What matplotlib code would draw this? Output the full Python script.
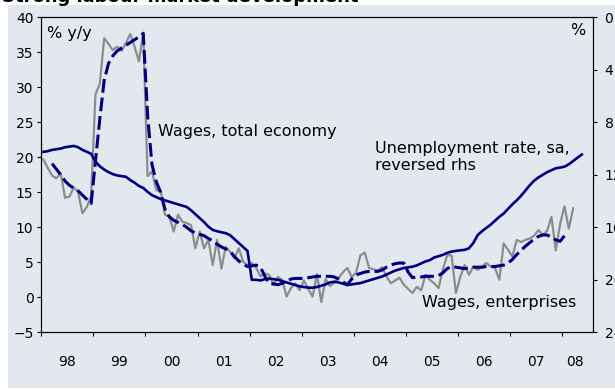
import numpy as np
import matplotlib.pyplot as plt
from matplotlib.patches import Rectangle

# monthly series, month 0 = Jan 1998
wages_enterprises = [
    19.7, 18.5, 17.4, 17.0, 17.7, 14.2, 14.4, 15.7, 15.0, 12.0, 12.9, 14.5,   # 1998
    29.0, 30.5, 37.0, 36.2, 35.3, 35.8, 35.2, 36.3, 37.6, 35.8, 33.7, 37.8,   # 1999
    17.3, 18.0, 15.3, 15.2, 11.8, 11.5, 9.4, 11.8, 10.8, 10.6, 10.3, 7.0,     # 2000
    9.4, 7.0, 8.2, 4.6, 8.2, 4.1, 7.2, 6.5, 5.6, 7.0, 5.1, 4.6,               # 2001
    4.9, 4.2, 3.0, 3.4, 3.2, 1.8, 2.9, 2.5, 0.1, 1.3, 2.0, 1.0,               # 2002
    2.4, 1.2, 0.1, 3.3, -0.7, 2.6, 1.6, 2.1, 2.8, 3.6, 4.2, 2.9,              # 2003
    3.5, 6.0, 6.4, 4.2, 4.0, 3.8, 4.3, 3.0, 2.0, 2.4, 2.8, 1.8,               # 2004
    1.2, 0.6, 1.5, 1.0, 3.2, 2.5, 2.0, 1.3, 4.0, 6.0, 6.0, 0.6,               # 2005
    2.9, 4.6, 3.2, 4.4, 3.9, 4.4, 4.9, 4.4, 4.2, 2.5, 7.7, 6.8,               # 2006
    5.8, 8.2, 7.9, 8.2, 8.4, 8.8, 9.6, 8.9, 9.5, 11.5, 6.7, 10.5,             # 2007
    13.0, 9.8, 12.7,                                                          # 2008
]

# smoothed wage series, starts in March 1998
wages_total_start = 2
wages_total = [
    19.1, 18.3, 17.5, 16.6, 16.0, 15.6, 15.2, 14.6, 14.0, 13.4,
    19.5, 25.5, 31.0, 33.4, 34.5, 35.2, 35.6, 36.0, 36.4, 36.8, 37.2, 37.7,
    26.0, 19.0, 16.5, 15.0, 12.6, 11.5, 11.0, 10.7, 10.4, 10.0, 9.5, 9.2,
    9.0, 8.8, 8.4, 8.1, 7.6, 7.2, 6.9, 6.6, 5.8, 5.2, 4.7, 4.4,
    4.5, 4.6, 4.3, 3.0, 2.0, 1.9, 1.8, 2.0, 2.3, 2.6, 2.7, 2.7,
    2.7, 2.8, 2.9, 3.0, 3.0, 3.0, 3.0, 2.9, 2.6, 2.2, 1.8, 2.6,
    3.2, 3.4, 3.6, 3.7, 3.7, 3.7, 3.9, 4.3, 4.6, 4.8, 4.9, 4.9,
    3.6, 2.8, 2.9, 2.9, 3.0, 3.0, 3.0, 3.1, 3.5, 4.1, 4.4, 4.3,
    4.2, 4.1, 4.2, 4.3, 4.3, 4.3, 4.4, 4.4, 4.4, 4.5, 4.6, 4.9,
    5.4, 6.1, 6.7, 7.3, 7.8, 8.3, 8.7, 8.9, 8.9, 8.6, 8.2, 8.0,
    8.8,
]

# unemployment rate, sa, %
unemployment = [
    10.25, 10.2, 10.1, 10.05, 10.0, 9.9, 9.85, 9.8, 9.9, 10.1, 10.25, 10.4,
    11.0, 11.35, 11.6, 11.8, 11.95, 12.05, 12.1, 12.15, 12.4, 12.6, 12.85, 13.0,
    13.3, 13.55, 13.7, 13.85, 13.95, 14.05, 14.15, 14.25, 14.35, 14.45, 14.7, 15.0,
    15.3, 15.6, 15.95, 16.2, 16.3, 16.38, 16.45, 16.6, 16.9, 17.2, 17.5, 17.8,
    20.0, 20.0, 20.05, 19.95, 19.9, 19.95, 20.0, 20.1, 20.2, 20.3, 20.4, 20.5,
    20.55, 20.6, 20.6, 20.55, 20.45, 20.35, 20.2, 20.15, 20.2, 20.3, 20.4, 20.35,
    20.3, 20.25, 20.15, 20.05, 19.95, 19.85, 19.75, 19.6, 19.45, 19.3, 19.2, 19.1,
    19.05, 19.0, 18.9, 18.75, 18.6, 18.5, 18.3, 18.2, 18.1, 17.95, 17.85, 17.8,
    17.75, 17.72, 17.6, 17.2, 16.6, 16.3, 16.05, 15.8, 15.5, 15.2, 14.95, 14.6,
    14.25, 13.95, 13.6, 13.2, 12.8, 12.45, 12.2, 12.0, 11.8, 11.65, 11.5, 11.45,
    11.38, 11.2, 10.95, 10.7, 10.45,
]

year_labels = ['98', '99', '00', '01', '02', '03', '04', '05', '06', '07', '08']
n_months = 127  # Jan 1998 - Jul 2008

bg = '#e3e8ee'
navy = '#000080'
grey = '#8c8c8c'

plt.rcParams['font.family'] = 'DejaVu Sans'
plt.rcParams['font.size'] = 10
label_size = 11.5

W, H = 615, 389
fig = plt.figure(figsize=(W / 100, H / 100), dpi=100)
fig.patches.append(Rectangle((8 / W, 1 / H), 1, 383 / H, transform=fig.transFigure,
                             facecolor=bg, edgecolor='none', zorder=-5))
fig.text(2 / W, 1 - 2.5 / H, 'Strong labour market development', fontsize=13,
         fontweight='bold', va='baseline', ha='left', zorder=-4)

ax = fig.add_axes([41.2 / W, 1 - 332.3 / H, 551.5 / W, 315 / H])
ax.set_facecolor(bg)
ax2 = ax.twinx()

x_ent = np.arange(len(wages_enterprises))
x_tot = np.arange(len(wages_total)) + wages_total_start
x_un = np.arange(len(unemployment))

ax.plot(x_ent, wages_enterprises, color=grey, lw=1.6, zorder=2)
ax.plot(x_tot, wages_total, color=navy, lw=2.2, dashes=(4.5, 1.6), zorder=3)
ax2.plot(x_un, unemployment, color=navy, lw=1.9)

ax.set_xlim(-0.5, n_months - 0.5)
ax.set_ylim(-5, 40)
ax.set_yticks(np.arange(-5, 41, 5))
ax2.set_ylim(24, 0)
ax2.set_yticks(np.arange(0, 25, 4))

# year boundaries get ticks, labels sit in the middle of each year
ax.set_xticks(np.arange(-0.5, n_months, 12))
ax.set_xticklabels([])
centres = [12 * i + 5.5 for i in range(len(year_labels) - 1)] + [122.5]
ax.set_xticks(centres, minor=True)
ax.set_xticklabels(year_labels, minor=True)
ax.tick_params(axis='x', which='major', direction='out', length=3, width=0.8)
ax.tick_params(axis='x', which='minor', length=0, pad=16)
ax.tick_params(axis='y', direction='out', length=3, width=0.8, pad=2.5)
ax2.tick_params(axis='y', direction='out', length=3, width=0.8, pad=5.5)

for a in (ax, ax2):
    for s in a.spines.values():
        s.set_linewidth(0.8)

ax.text(0.01, 0.95, '% y/y', transform=ax.transAxes, va='center', ha='left',
        fontsize=label_size)
ax.text(0.986, 0.957, '%', transform=ax.transAxes, va='center', ha='right',
        fontsize=label_size)
ax.text(0.212, 0.636, 'Wages, total economy', transform=ax.transAxes, va='center',
        ha='left', fontsize=label_size)
ax.text(0.605, 0.557, 'Unemployment rate, sa,\nreversed rhs', transform=ax.transAxes,
        va='center', ha='left', linespacing=1.15, fontsize=label_size)
ax.text(0.971, 0.095, 'Wages, enterprises', transform=ax.transAxes, va='center',
        ha='right', fontsize=label_size)

fig.savefig('out.png', dpi=100, facecolor='white')
